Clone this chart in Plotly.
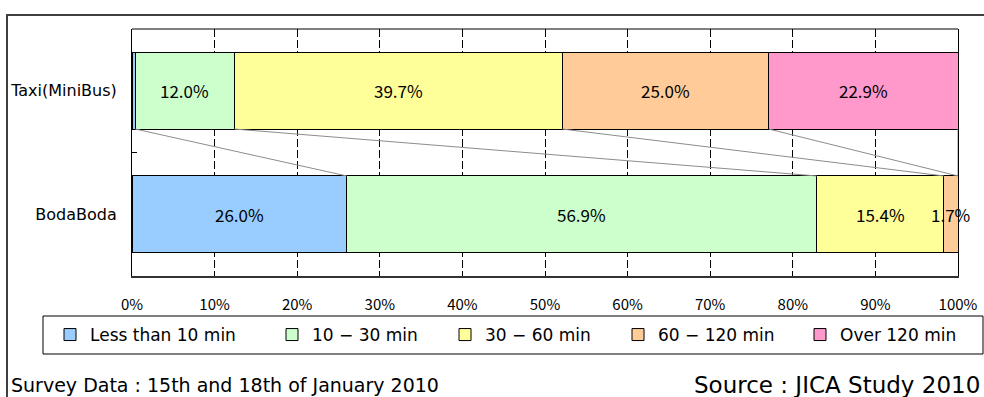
import plotly.graph_objects as go

# ---- data -------------------------------------------------------------
categories = ["BodaBoda", "Taxi(MiniBus)"]          # bottom -> top
series_names = ["Less than 10 min", "10 − 30 min", "30 − 60 min",
                "60 − 120 min", "Over 120 min"]
taxi_share = [0.4, 12.0, 39.7, 25.0, 22.9]
bodaboda_share = [26.0, 56.9, 15.4, 1.7, 0.0]
x_tick_values = [0, 10, 20, 30, 40, 50, 60, 70, 80, 90, 100]
survey_note = "Survey Data : 15th and 18th of January 2010"
source_note = "Source : JICA Study 2010"

# ---- style ------------------------------------------------------------
colors = ["#99CCFF", "#CCFFCC", "#FFFF99", "#FFCC99", "#FF99CC"]
legend_widths = [177, 128, 128, 137, 139]
NUM_FONT = "Noto Sans CJK JP"
TXT_FONT = "DejaVu Sans"
W, H = 984, 397
L, R, T, B = 132, 26, 29, 121
BAR_W = 0.62

plot_w = W - L - R
plot_h = H - T - B


def px_x(px):
    return (px - L) / plot_w


def px_y(py):
    return (H - B - py) / plot_h


fig = go.Figure()

for i, name in enumerate(series_names):
    fig.add_trace(go.Bar(
        y=categories, x=[bodaboda_share[i], taxi_share[i]],
        name=name, orientation="h", width=BAR_W,
        marker=dict(color=colors[i], line=dict(color="black", width=1)),
        legendwidth=legend_widths[i], hoverinfo="skip",
    ))

# percentage labels centred on each segment (small slivers stay unlabeled)
annotations = []
shapes = []
for cat, shares in ((categories[0], bodaboda_share), (categories[1], taxi_share)):
    start = 0.0
    bounds = []
    for v in shares:
        if v >= 1:
            annotations.append(dict(
                x=start + v / 2, y=cat, xref="x", yref="y",
                text=f"{v:.1f}%", showarrow=False,
                xanchor="center", yanchor="middle",
                font=dict(family=NUM_FONT, size=17, color="black")))
        start += v
        bounds.append(start)
    if cat == categories[0]:
        boda_bounds = bounds
    else:
        taxi_bounds = bounds

# connector lines between matching cumulative boundaries of the two bars
for a, b in zip(taxi_bounds, boda_bounds):
    shapes.append(dict(type="line", xref="x", yref="y",
                       x0=a, y0=1 - BAR_W / 2, x1=b, y1=0 + BAR_W / 2,
                       line=dict(color="#8c8c8c", width=1), layer="above"))

# top border of the plot area
shapes.append(dict(type="line", xref="paper", yref="paper", x0=0, x1=1,
                   y0=1, y1=1, line=dict(color="black", width=1)))
# legend box
shapes.append(dict(type="rect", xref="paper", yref="paper",
                   x0=px_x(43), x1=px_x(983), y0=px_y(354), y1=px_y(316),
                   line=dict(color="black", width=1),
                   fillcolor="rgba(0,0,0,0)"))
# outer frame around the whole chart
shapes.append(dict(type="rect", xref="paper", yref="paper",
                   x0=px_x(7), x1=px_x(1010), y0=px_y(430), y1=px_y(15),
                   line=dict(color="#404040", width=2),
                   fillcolor="rgba(0,0,0,0)", layer="below"))

annotations += [
    dict(text=survey_note, xref="paper", yref="paper",
         x=px_x(9), y=px_y(385), xanchor="left", yanchor="middle",
         showarrow=False, font=dict(family=TXT_FONT, size=19, color="black")),
    dict(text=source_note, xref="paper", yref="paper",
         x=px_x(692), y=px_y(385), xanchor="left", yanchor="middle",
         showarrow=False, font=dict(family=TXT_FONT, size=23, color="black")),
]

fig.update_layout(
    width=W, height=H,
    margin=dict(l=L, r=R, t=T, b=B, pad=0, autoexpand=False),
    paper_bgcolor="white", plot_bgcolor="white",
    barmode="stack",
    font=dict(family=TXT_FONT, color="black"),
    shapes=shapes,
    annotations=annotations,
    legend=dict(
        orientation="h", traceorder="normal",
        xref="paper", yref="paper",
        x=px_x(50), xanchor="left", y=px_y(335), yanchor="middle",
        borderwidth=0, bgcolor="rgba(0,0,0,0)",
        font=dict(family=TXT_FONT, size=17, color="black"),
    ),
)

fig.update_xaxes(
    range=[0, 100], tickvals=x_tick_values,
    ticktext=[f"{v}%" for v in x_tick_values],
    showgrid=True, gridcolor="black", gridwidth=1, griddash="8px,3px",
    showline=True, linecolor="#333333", linewidth=2,
    ticks="outside", ticklen=14, tickcolor="rgba(0,0,0,0)",
    tickfont=dict(family=NUM_FONT, size=15, color="black"),
    zeroline=False, fixedrange=True,
)
fig.update_yaxes(
    type="category", categoryorder="array", categoryarray=categories,
    range=[-0.5, 1.5],
    showline=True, linecolor="black", linewidth=1, mirror=True,
    ticks="inside", tickson="boundaries", ticklen=5, tickcolor="black",
    ticklabelstandoff=11,
    tickfont=dict(family=TXT_FONT, size=16, color="black"),
    showgrid=False, fixedrange=True,
)

fig.write_html("out.html")
